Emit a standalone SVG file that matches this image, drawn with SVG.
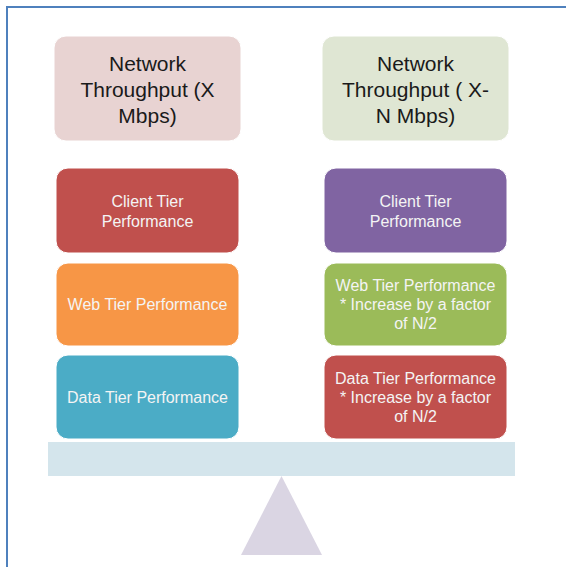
<svg xmlns="http://www.w3.org/2000/svg" width="566" height="567" viewBox="0 0 566 567">
<style>
.box{stroke:#ffffff;stroke-width:1}
.t1{font-family:"Liberation Sans",Arial,sans-serif;font-size:21px;fill:#1a1a1a;text-anchor:middle}
.t2{font-family:"Liberation Sans",Arial,sans-serif;font-size:16px;fill:#f4f4f4;text-anchor:middle}
</style>
<rect width="566" height="567" fill="#ffffff"/>
<g id="frame">
<line x1="7" y1="7" x2="566" y2="7" stroke="#4f81bd" stroke-width="2"/>
<line x1="7" y1="6" x2="7" y2="567" stroke="#4f81bd" stroke-width="2"/>
</g>
<g id="scale">
<rect x="48" y="442" width="467" height="34" fill="#d4e5ec"/>
<polygon points="281.5,476 241,555 322,555" fill="#dad5e3"/>
</g>
<g id="net-left">
<rect class="box" x="54" y="36" width="187" height="105" rx="12" fill="#e8d3d2"/>
<text class="t1" x="147.5" y="70.5">Network</text>
<text class="t1" x="147.5" y="96.5">Throughput (X</text>
<text class="t1" x="147.5" y="122.5">Mbps)</text>
</g>
<g id="net-right">
<rect class="box" x="322" y="36" width="187" height="105" rx="12" fill="#dfe6d3"/>
<text class="t1" x="415.5" y="70.5">Network</text>
<text class="t1" x="415.5" y="96.5">Throughput ( X-</text>
<text class="t1" x="415.5" y="122.5">N Mbps)</text>
</g>
<g id="client-left">
<rect class="box" x="56" y="168" width="183" height="85" rx="12" fill="#c0504d"/>
<text class="t2" x="147.5" y="207">Client Tier</text>
<text class="t2" x="147.5" y="226.5">Performance</text>
</g>
<g id="client-right">
<rect class="box" x="324" y="168" width="183" height="85" rx="12" fill="#8064a2"/>
<text class="t2" x="415.5" y="207">Client Tier</text>
<text class="t2" x="415.5" y="226.5">Performance</text>
</g>
<g id="web-left">
<rect class="box" x="56" y="263" width="183" height="83" rx="12" fill="#f79646"/>
<text class="t2" x="147.5" y="309.5">Web Tier Performance</text>
</g>
<g id="web-right">
<rect class="box" x="324" y="263" width="183" height="83" rx="12" fill="#9bbb59"/>
<text class="t2" x="415.5" y="290.5">Web Tier Performance</text>
<text class="t2" x="415.5" y="309.5">* Increase by a factor</text>
<text class="t2" x="415.5" y="328.5">of N/2</text>
</g>
<g id="data-left">
<rect class="box" x="56" y="355" width="183" height="84" rx="12" fill="#4bacc6"/>
<text class="t2" x="147.5" y="402.5">Data Tier Performance</text>
</g>
<g id="data-right">
<rect class="box" x="324" y="355" width="183" height="84" rx="12" fill="#c0504d"/>
<text class="t2" x="415.5" y="383.5">Data Tier Performance</text>
<text class="t2" x="415.5" y="402.5">* Increase by a factor</text>
<text class="t2" x="415.5" y="421.5">of N/2</text>
</g>
<g id="connectors"/>
</svg>
